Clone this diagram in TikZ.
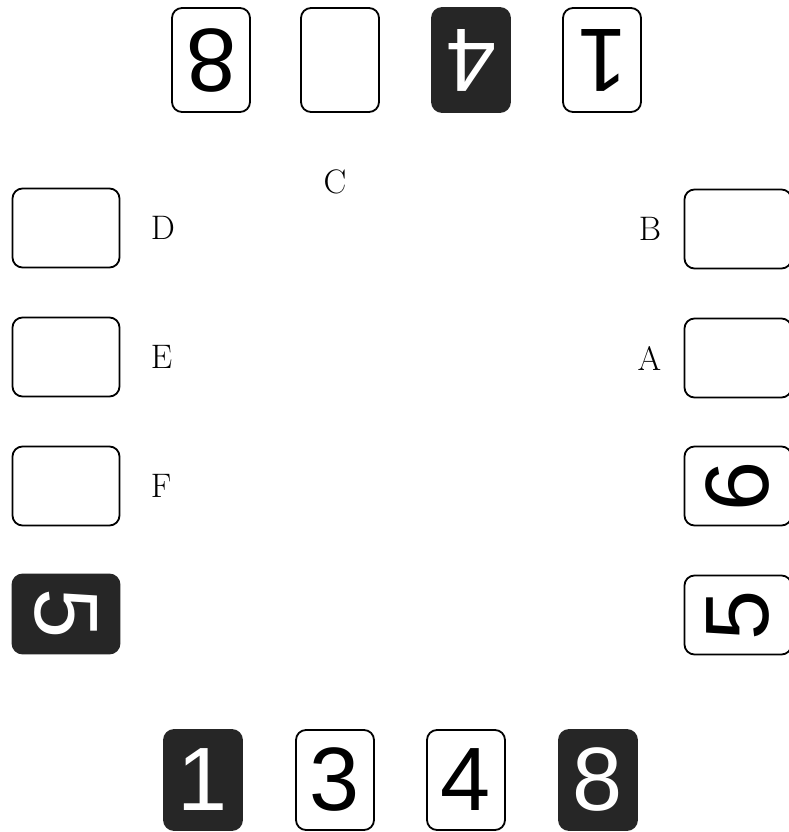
\documentclass[tikz,border=0pt]{standalone}
\usepackage{fontspec}
\usepackage{tikz}
\usetikzlibrary{positioning}
\newfontfamily\keyfont{Liberation Sans}
\definecolor{cKey}{gray}{0.15}

\begin{document}
\begin{tikzpicture}[
  x=0.5pt, y=-0.5pt,
  key/.style     = {rectangle, rounded corners=5pt, draw, line width=0.9pt,
                    inner sep=0pt, font=\keyfont\fontsize{45}{45}\selectfont},
  upkey/.style   = {key, minimum width=39pt, minimum height=52pt},
  downkey/.style = {key, minimum width=39pt, minimum height=50pt},
  sidekey/.style = {key, minimum width=53.5pt, minimum height=39.5pt},
  dark/.style    = {fill=cKey, draw=cKey, text=white},
  lab/.style     = {font=\fontsize{17}{19}\selectfont, inner sep=1pt}]

\useasboundingbox (0,0) rectangle (789,832);

% ---- top row (seen upside down) ---------------------------------------
\node[upkey] (top8) at (211,60) {\rotatebox{180}{8}};
\node[upkey] (topblank) at (340,60) {};
\node[upkey, dark] (top4) at (471,60) {\rotatebox{180}{4}};
\node[upkey] (top1) at (602,60) {\rotatebox{180}{1}};

% ---- left column --------------------------------------------------------
\node[sidekey] (boxD) at (66,228) {};
\node[sidekey] (boxE) at (66,357) {};
\node[sidekey] (boxF) at (66,486) {};
\node[sidekey, dark] (left5) at (66,614) {\rotatebox{-90}{5}};

\node[lab, right=14pt of boxD] (labD) {D};
\node[lab, right=14pt of boxE] (labE) {E};
\node[lab, right=14pt of boxF] (labF) {F};

% ---- right column -------------------------------------------------------
\node[sidekey] (boxB) at (738,229) {};
\node[sidekey] (boxA) at (738,358) {};
\node[sidekey] (right6) at (738,486) {\rotatebox{90}{6}};
\node[sidekey] (right5) at (738,615) {\rotatebox{90}{5}};

\node[lab, left=10pt of boxB] (labB) {B};
\node[lab, left=10pt of boxA] (labA) {A};

% ---- free label ----------------------------------------------------------
\node[lab] (labC) at (335,182) {C};

% ---- bottom row ------------------------------------------------------------
\node[downkey, dark] (bot1) at (203,780) {1};
\node[downkey] (bot3) at (335,780) {3};
\node[downkey] (bot4) at (466,780) {4};
\node[downkey, dark] (bot8) at (598,780) {8};

\end{tikzpicture}
\end{document}
